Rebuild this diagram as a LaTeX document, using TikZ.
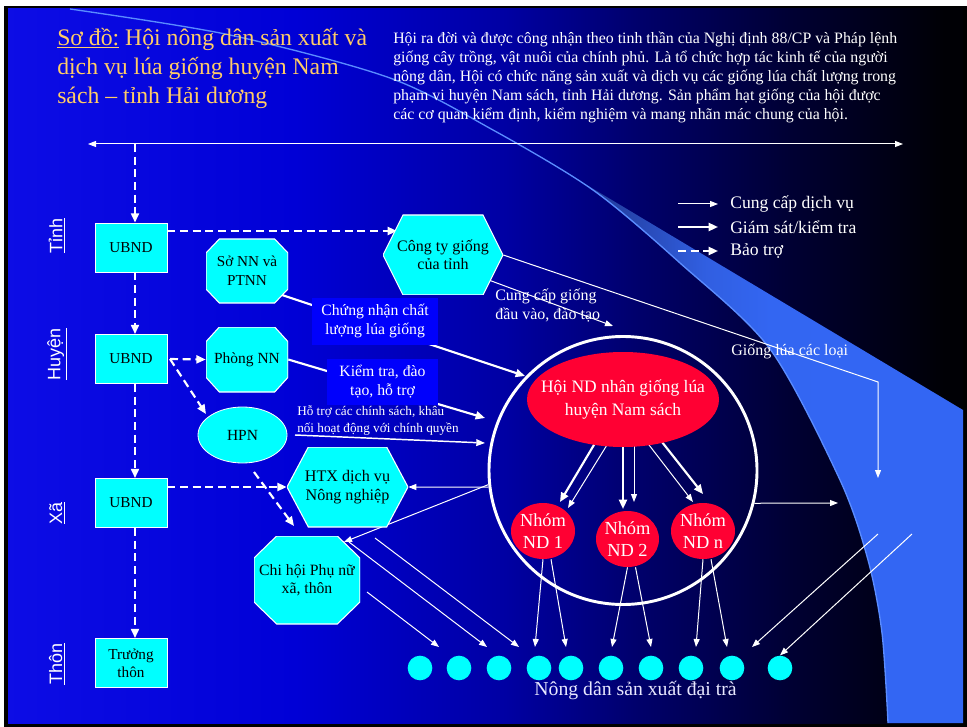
\documentclass[tikz,border=0pt]{standalone}
\usepackage{fontspec}
\setmainfont{Liberation Serif}
\newfontfamily\labelsans{Liberation Sans}
\usetikzlibrary{arrows.meta,shapes.geometric}

\pgfdeclarelayer{back}
\pgfdeclarelayer{lines}
\pgfsetlayers{back,lines,main}

\definecolor{slidegold}{RGB}{255,204,102}
\definecolor{cyanfill}{RGB}{0,255,255}
\definecolor{redfill}{RGB}{255,0,51}
\definecolor{labelblue}{RGB}{0,0,252}
\definecolor{edgeblue}{RGB}{90,140,255}
\definecolor{softwhite}{RGB}{232,232,255}

% slide background: bright blue on the left fading to black on the right
\pgfdeclarehorizontalshading{slidebg}{100bp}{
  rgb(0bp)=(0.05,0.05,0.9);
  rgb(25bp)=(0.05,0.05,0.9);
  rgb(40bp)=(0,0,0.84);
  rgb(51bp)=(0,0,0.64);
  rgb(58bp)=(0,0,0.42);
  rgb(66bp)=(0,0,0.2);
  rgb(74bp)=(0,0,0.02);
  rgb(100bp)=(0,0,0)}

% the light blue swoosh on the right
\pgfdeclarehorizontalshading{bandshade}{100bp}{
  rgb(0bp)=(0.1,0.17,0.5);
  rgb(25bp)=(0.1,0.17,0.5);
  rgb(35bp)=(0.15,0.27,0.68);
  rgb(44bp)=(0.19,0.37,0.88);
  rgb(52bp)=(0.2,0.4,0.95);
  rgb(100bp)=(0.2,0.4,0.96)}

\tikzset{
  thinarrow/.style={draw=white, line width=0.75pt, -{Triangle[length=6pt,width=4.5pt]}},
  thickarrow/.style={draw=white, line width=1.6pt, -{Triangle[length=7pt,width=6pt]}},
  dasharrow/.style={draw=white, line width=1.6pt, dash pattern=on 6pt off 3.5pt, -{Triangle[length=7pt,width=6pt]}},
  ubox/.style={rectangle, fill=cyanfill, draw=white, line width=0.6pt, minimum width=54pt,
    minimum height=36.75pt, inner sep=0pt, align=center, text=black,
    font=\fontsize{11.4}{13.5}\selectfont},
  hexnode/.style={rectangle, inner sep=0pt, align=center, text=black,
    path picture={\filldraw[fill=cyanfill, draw=white, line width=0.8pt]
      (path picture bounding box.west)
      -- ([xshift=#1]path picture bounding box.north west)
      -- ([xshift=-#1]path picture bounding box.north east)
      -- (path picture bounding box.east)
      -- ([xshift=-#1]path picture bounding box.south east)
      -- ([xshift=#1]path picture bounding box.south west) -- cycle;}},
  octnode/.style 2 args={rectangle, inner sep=0pt, align=center, text=black,
    path picture={\filldraw[fill=cyanfill, draw=white, line width=0.8pt]
      ([xshift=#1]path picture bounding box.north west)
      -- ([xshift=-#1]path picture bounding box.north east)
      -- ([yshift=-#2]path picture bounding box.north east)
      -- ([yshift=#2]path picture bounding box.south east)
      -- ([xshift=-#1]path picture bounding box.south east)
      -- ([xshift=#1]path picture bounding box.south west)
      -- ([yshift=#2]path picture bounding box.south west)
      -- ([yshift=-#2]path picture bounding box.north west) -- cycle;}},
  labelbox/.style={rectangle, fill=labelblue, inner sep=0pt, align=center, text=white,
    font=\fontsize{11.8}{14.25}\selectfont},
  redell/.style={ellipse, fill=redfill, inner sep=0pt, align=center, text=white},
  farmdot/.style={circle, fill=cyanfill, minimum size=18.5pt, inner sep=0pt},
  levellabel/.style={rotate=90, text=white, inner sep=0pt,
    font=\labelsans\fontsize{13.5}{16}\selectfont},
  whitetext/.style={text=white, inner sep=0pt, align=left},
}

\begin{document}
\begin{tikzpicture}[x=0.75pt,y=-0.75pt]
\useasboundingbox (0,0) rectangle (967,727);

\begin{pgfonlayer}{back}
  \fill[white] (0,0) rectangle (967,727);
  \fill[black] (4,6) rectangle (967,727);
  \shade[shading=slidebg] (8,9) rectangle (963,723);
  \shade[shading=bandshade] plot[smooth] coordinates {(545,160) (593,190) (680,263) (770,349) (840,480) (868,560) (882,633) (888,723)}
    -- (963,723) -- (963,410) -- cycle;
  \draw[edgeblue, line width=1pt] plot[smooth] coordinates {(70,9) (230,35) (390,78) (493,130) (593,190) (680,263) (770,349) (840,480) (868,560) (882,633) (888,723)};
\end{pgfonlayer}

% ---- title and description
\node[anchor=west, text=slidegold, inner sep=0pt, align=left,
      font=\fontsize{17.8}{22.1}\selectfont] (title) at (57,68.5)
  {\underline{Sơ đồ:} Hội nông dân sản xuất và\\dịch vụ lúa giống huyện Nam\\sách – tỉnh Hải dương};
\node[whitetext, anchor=west, font=\fontsize{11.9}{14.4}\selectfont] (para) at (393,77.5)
  {Hội ra đời và được công nhận theo tinh thần của Nghị định 88/CP và Pháp lệnh\\
   giống cây trồng, vật nuôi của chính phủ. Là tổ chức hợp tác kinh tế của người\\
   nông dân, Hội có chức năng sản xuất và dịch vụ các giống lúa chất lượng trong\\
   phạm vi huyện Nam sách, tỉnh Hải dương. Sản phẩm hạt giống của hội được\\
   các cơ quan kiểm định, kiểm nghiệm và mang nhãn mác chung của hội.};

% ---- level labels
\node[levellabel] (lvtinh) at (57,235.5) {\underline{Tỉnh}};
\node[levellabel] (lvhuyen) at (57,354) {\underline{Huyện}};
\node[levellabel] (lvxa) at (57,513) {\underline{Xã}};
\node[levellabel] (lvthon) at (57,664) {\underline{Thôn}};

% ---- administrative column
\node[ubox] (ubnd1) at (131,247.5) {UBND};
\node[ubox] (ubnd2) at (131,359) {UBND};
\node[ubox] (ubnd3) at (131,503) {UBND};
\node[ubox] (truong) at (131,663) {Trưởng\\thôn};

% ---- organisations
\node[hexnode=15pt, minimum width=90pt, minimum height=60pt,
      font=\fontsize{12}{13.5}\selectfont] (cty) at (443,255) {Công ty giống\\của tỉnh};
\node[octnode={10pt}{10.5pt}, minimum width=61.5pt, minimum height=48pt,
      font=\fontsize{11.4}{14}\selectfont] (so) at (247,271) {Sở NN và\\PTNN};
\node[octnode={10pt}{11pt}, minimum width=61.5pt, minimum height=48.75pt,
      font=\fontsize{11.6}{14}\selectfont] (phong) at (247,359.5) {Phòng NN};
\node[ellipse, fill=cyanfill, draw=white, line width=0.6pt, minimum width=66.75pt,
      minimum height=42pt, inner sep=0pt, font=\fontsize{11.6}{14}\selectfont] (hpn) at (242.5,435) {HPN};
\node[hexnode=16pt, minimum width=90.75pt, minimum height=60pt,
      font=\fontsize{12.1}{14.25}\selectfont] (htx) at (347.5,487) {HTX dịch vụ\\Nông nghiệp};
\node[octnode={17pt}{16.5pt}, minimum width=79.5pt, minimum height=66pt,
      font=\fontsize{11.8}{13.5}\selectfont] (chihoi) at (307,580) {Chi hội Phụ nữ\\xã, thôn};

% ---- relation labels
\node[labelbox, minimum width=94.5pt, minimum height=35.25pt] (chungnhan) at (375,321.5)
  {Chứng nhận chất\\lượng lúa giống};
\node[labelbox, minimum width=83.25pt, minimum height=34.5pt] (kiemtra) at (382.5,382)
  {Kiểm tra, đào\\tạo, hỗ trợ};
\node[whitetext, anchor=west, font=\fontsize{9.9}{12.75}\selectfont] (hotro) at (297,420.5)
  {Hỗ trợ các chính sách, khâu\\nối hoạt động với chính quyền};
\node[whitetext, anchor=west, font=\fontsize{12}{14.25}\selectfont] (cungcap) at (495,305.5)
  {Cung cấp giống\\đầu vào, đào tạo};
\node[whitetext, anchor=west, font=\fontsize{12}{14}\selectfont] (giongloai) at (731,351)
  {Giống lúa các loại};

% ---- the association and its groups
\node[circle, draw=white, line width=2.2pt, minimum size=201pt, inner sep=0pt] (ring) at (623,470.5) {};
\node[redell, inner xsep=-15pt, minimum width=144pt, minimum height=71.25pt,
      font=\fontsize{13.1}{17.25}\selectfont] (hoind) at (623,399.5) {Hội ND nhân giống lúa\\huyện Nam sách};
\node[redell, inner xsep=-1pt, minimum width=48pt, minimum height=42pt, font=\fontsize{13.8}{16.5}\selectfont] (nd1) at (543,531) {Nhóm\\ND 1};
\node[redell, inner xsep=-1pt, minimum width=47.25pt, minimum height=42pt, font=\fontsize{13.8}{16.5}\selectfont] (nd2) at (627.5,539) {Nhóm\\ND 2};
\node[redell, inner xsep=-1pt, minimum width=48pt, minimum height=42pt, font=\fontsize{13.8}{16.5}\selectfont] (ndn) at (703,531) {Nhóm\\ND n};

% ---- farmers
\foreach \i/\x in {1/420,2/459,3/499,4/539,5/571,6/611,7/651,8/691,9/732,10/780}
  \node[farmdot] (f\i) at (\x,668) {};
\node[text=softwhite, inner sep=0pt, font=\fontsize{14.8}{17}\selectfont] (nongdan) at (635.5,690)
  {Nông dân sản xuất đại trà};

% ---- legend
\coordinate (lg1a) at (678,204); \coordinate (lg1b) at (718,204);
\coordinate (lg2a) at (678,227); \coordinate (lg2b) at (718,227);
\coordinate (lg3a) at (678,251); \coordinate (lg3b) at (718,251);
\node[whitetext, anchor=west, font=\fontsize{13.2}{15}\selectfont] (lgt1) at (730,204) {Cung cấp dịch vụ};
\node[whitetext, anchor=west, font=\fontsize{13.2}{15}\selectfont] (lgt2) at (730,227) {Giám sát/kiểm tra};
\node[whitetext, anchor=west, font=\fontsize{13.2}{15}\selectfont] (lgt3) at (730,251) {Bảo trợ};

% ---- free ends of connectors
\coordinate (topL) at (88,144);
\coordinate (topR) at (903,144);
\coordinate (topV) at (135,144);
\coordinate (ctyIn) at (397,231);
\coordinate (u2r) at (170,359);
\coordinate (hpnIn) at (206,414);
\coordinate (hpnOut) at (254,472);
\coordinate (chiIn) at (294,526);
\coordinate (soOut) at (279,294);
\coordinate (ringIn1) at (525,376);
\coordinate (ringIn2) at (485,418);
\coordinate (hpnOut2) at (295,435);
\coordinate (ringIn3) at (485,443);
\coordinate (ctyOut) at (486,279);
\coordinate (ringTop) at (613,326);
\coordinate (gBend) at (878,382);
\coordinate (gEnd) at (878,478);
\coordinate (chiIn2) at (344,542);
\coordinate (rightEnd) at (838,503);

\begin{pgfonlayer}{lines}
  % legend samples
  \draw[thinarrow] (lg1a) -- (lg1b);
  \draw[thickarrow] (lg2a) -- (lg2b);
  \draw[dasharrow] (lg3a) -- (lg3b);

  % top axis
  \draw[draw=white, line width=0.75pt, {Triangle[length=6pt,width=4.5pt]}-{Triangle[length=6pt,width=4.5pt]}] (topL) -- (topR);

  % patronage (dashed)
  \draw[dasharrow] (topV) -- (topV |- ubnd1.north);
  \draw[dasharrow] (topV |- ubnd1.south) -- (topV |- ubnd2.north);
  \draw[dasharrow] (topV |- ubnd2.south) -- (topV |- ubnd3.north);
  \draw[dasharrow] (topV |- ubnd3.south) -- (topV |- truong.north);
  \draw[dasharrow] (ubnd1.east |- ctyIn) -- (ctyIn);
  \draw[dasharrow] (u2r) -- (phong.west);
  \draw[dasharrow] (u2r) -- (hpnIn);
  \draw[dasharrow] (ubnd3.east |- htx.west) -- (htx.west);
  \draw[dasharrow] (hpnOut) -- (chiIn);

  % supervision (thick)
  \draw[thickarrow] (soOut) -- (ringIn1);
  \draw[thickarrow] (phong.east) -- (ringIn2);
  \draw[draw=white, line width=1.1pt, -{Triangle[length=6.5pt,width=5pt]}] (hpnOut2) -- (ringIn3);

  % services (thin)
  \draw[thinarrow] (ctyOut) -- (ringTop);
  \draw[thinarrow] (cty.east) -- (gBend) -- (gEnd);
  \draw[thinarrow] (ring.187) -- (htx.east);
  \draw[thinarrow] (ring.186) -- (chiIn2);
  \draw[thinarrow] (ring.346) -- (rightEnd);

  % association to its groups
  \draw[thickarrow] (607,423) -- (560,502);
  \draw[thinarrow] (615,432) -- (568,508);
  \draw[thickarrow] (623,432) -- (623,509);
  \draw[thinarrow] (634,439) -- (634,502);
  \draw[thinarrow] (639,432) -- (693,502);
  \draw[thickarrow] (647,423) -- (703,494);

  % services down to the farmers
  \draw[thinarrow] (367,592) -- (439,647);
  \draw[thinarrow] (349,542) -- (487,647);
  \draw[thinarrow] (375,538) -- (519,647);
  \draw[thinarrow] (nd1.south) -- (535,647);
  \draw[thinarrow] ([xshift=6pt]nd1.south) -- (566,647);
  \draw[thinarrow] (nd2.south) -- (612,647);
  \draw[thinarrow] ([xshift=6pt]nd2.south) -- (651,647);
  \draw[thinarrow] (ndn.south) -- (696,647);
  \draw[thinarrow] ([xshift=6pt]ndn.south) -- (727,647);
  \draw[thinarrow] (878,534) -- (752,647);
  \draw[thinarrow] (912,534) -- (f10.north);
\end{pgfonlayer}
\end{tikzpicture}
\end{document}
